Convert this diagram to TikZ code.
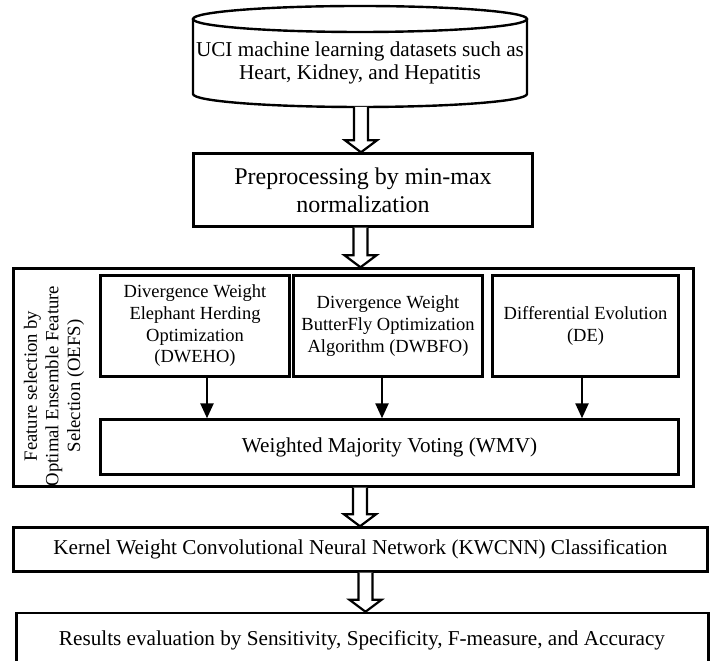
\documentclass[tikz,border=0pt]{standalone}
\usepackage{fontspec}
\setmainfont{Liberation Serif}
\usetikzlibrary{arrows.meta,calc}
\tikzset{
  box/.style={draw, line width=2.4pt, inner sep=0pt, align=center},
  txtA/.style={font=\fontsize{21.2}{23}\selectfont},
  txtB/.style={font=\fontsize{24}{28}\selectfont},
  txtC/.style={font=\fontsize{18.5}{21.7}\selectfont},
  txtV/.style={font=\fontsize{18.7}{21.7}\selectfont},
  harrow/.style={draw, line width=2.2pt, fill=white, line join=miter},
  sarrow/.style={draw, line width=2.4pt, -{Triangle[width=13pt,length=15pt]}},
}
\newcommand{\hollowarr}[3]{%
  \draw[harrow] let \p1=(#1), \p2=(#2) in
    (#3-7pt,\y1) -- (#3-7pt,\y2+12pt) -- (#3-16pt,\y2+12pt) -- (#3,\y2)
    -- (#3+16pt,\y2+12pt) -- (#3+7pt,\y2+12pt) -- (#3+7pt,\y1);}
\begin{document}
\begin{tikzpicture}[x=1pt,y=1pt]
\useasboundingbox (0,0) rectangle (715,661);
\clip (0,0) rectangle (715,661);
\fill[white] (0,0) rectangle (715,661);

% cylinder
\draw[line width=2.4pt] (193,642) -- (193,567)
  arc[start angle=180, end angle=360, x radius=167, y radius=13] -- (527,642);
\draw[line width=2.4pt] (360,642) ellipse[x radius=167, y radius=13];
\coordinate (cylbot) at (360,554);
\node[txtA, align=center] (uci) at (360,598)
  {UCI machine learning datasets such as\\Heart, Kidney, and Hepatitis};

% preprocessing
\node[box, txtB, minimum width=339, minimum height=73] (pre) at (363,471)
  {Preprocessing by min-max\\normalization};

% OEFS outer box
\node[box, minimum width=680, minimum height=218] (oefs) at (353.5,283.5) {};
\node[txtV, align=center, rotate=90] (oefslab) at (54,275)
  {Feature selection by\\Optimal Ensemble Feature\\Selection (OEFS)};

% inner boxes
\node[box, txtC, minimum width=189, minimum height=101] (eho) at (195,335)
  {Divergence Weight\\Elephant Herding\\Optimization\\(DWEHO)};
\node[box, txtC, minimum width=189, minimum height=101] (bfo) at (388,335)
  {Divergence Weight\\ButterFly Optimization\\Algorithm (DWBFO)};
\node[box, txtC, minimum width=186, minimum height=101] (de) at (585.5,335)
  {Differential Evolution\\(DE)};
\node[box, txtA, minimum width=578, minimum height=55] (wmv) at (389.5,214)
  {Weighted Majority Voting (WMV)};

% KWCNN
\node[box, txtA, minimum width=694, minimum height=44] (kw) at (360.5,111.5)
  {Kernel Weight Convolutional Neural Network (KWCNN) Classification};

% Results
\node[box, txtA, minimum width=692, minimum height=80] (res) at (362.5,8)
  {};
\node[txtA] (restxt) at (362,21)
  {Results evaluation by Sensitivity, Specificity, F-measure, and Accuracy};

% small arrows
\draw[sarrow] (eho.south -| 207,0) -- (wmv.north -| 207,0);
\draw[sarrow] (bfo.south -| 382,0) -- (wmv.north -| 382,0);
\draw[sarrow] (de.south -| 582,0) -- (wmv.north -| 582,0);

% hollow arrows
\hollowarr{cylbot}{pre.north}{361pt}
\hollowarr{pre.south}{oefs.north}{360.5pt}
\hollowarr{oefs.south}{kw.north}{360pt}
\hollowarr{kw.south}{res.north}{365.5pt}
\end{tikzpicture}
\end{document}
